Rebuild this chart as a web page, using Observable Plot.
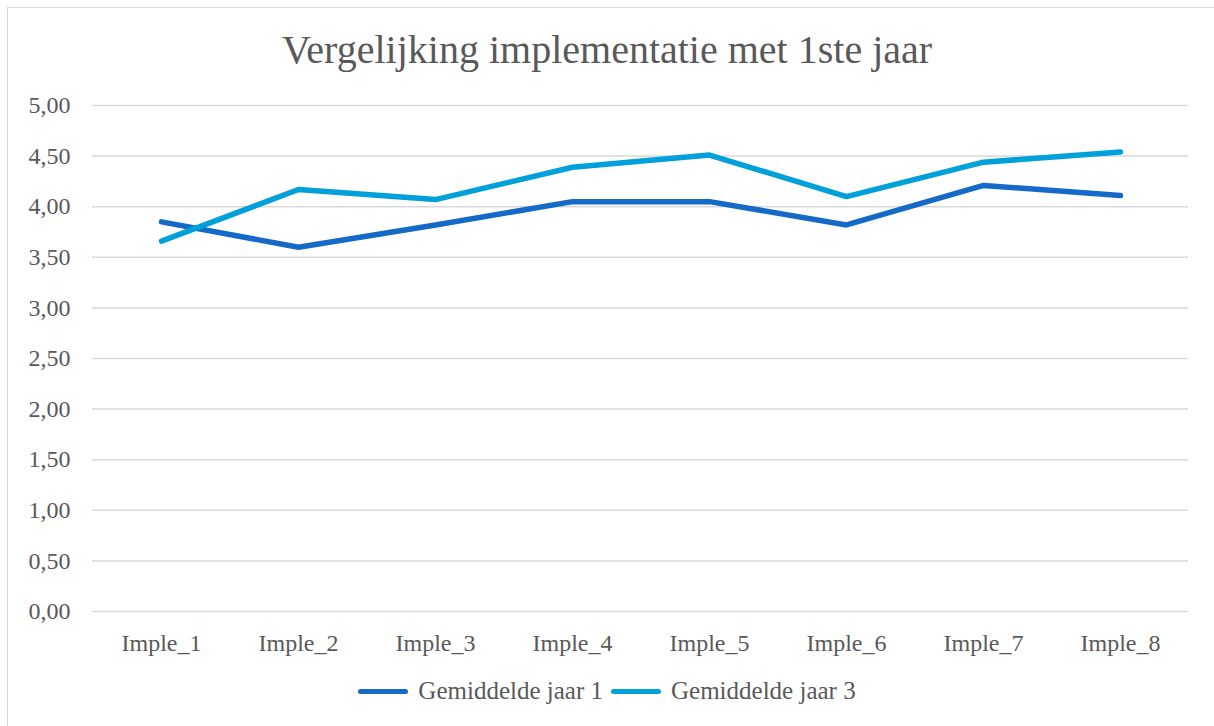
<!DOCTYPE html>
<html>
<head>
<meta charset="utf-8">
<script src="https://cdn.jsdelivr.net/npm/d3@7"></script>
<script src="https://cdn.jsdelivr.net/npm/@observablehq/plot@0.6"></script>
<style>
  body { margin: 0; background: #fff; font-family: "Liberation Serif", "DejaVu Serif", serif; }
  #wrap { position: relative; width: 1214px; height: 726px; overflow: hidden; }
  #frame { position: absolute; left: 7px; top: 7px; width: 1230px; height: 740px; border: 1.5px solid #d9d9d9; box-sizing: border-box; }
  #title { position: absolute; left: 0; width: 1214px; top: 26px; text-align: center; font-size: 40px; color: #595959; }
  #chart { position: absolute; left: 0; top: 0; }
  #legend { position: absolute; left: 0; width: 1214px; top: 677px; display: flex; justify-content: center; align-items: center; font-size: 25px; color: #595959; }
  .item { display: flex; align-items: center; margin: 0 4px; }
  .sw { width: 50px; height: 5px; border-radius: 3px; margin-right: 10px; }
</style>
</head>
<body>
<div id="wrap">
  <div id="frame"></div>
  <div id="chart"></div>
  <div id="title">Vergelijking implementatie met 1ste jaar</div>
  <div id="legend"></div>
</div>
<script>
const categories = ["Imple_1","Imple_2","Imple_3","Imple_4","Imple_5","Imple_6","Imple_7","Imple_8"];
const jaar1 = [3.85, 3.60, 3.82, 4.05, 4.05, 3.82, 4.21, 4.11];
const jaar3 = [3.66, 4.17, 4.07, 4.39, 4.51, 4.10, 4.44, 4.54];
const seriesNames = ["Gemiddelde jaar 1", "Gemiddelde jaar 3"];
const seriesColors = ["#1569C7", "#00A0DA"];
const yTicks = [0, 0.5, 1, 1.5, 2, 2.5, 3, 3.5, 4, 4.5, 5];

const rows = [];
categories.forEach((c, i) => {
  rows.push({cat: c, value: jaar1[i], series: seriesNames[0]});
  rows.push({cat: c, value: jaar3[i], series: seriesNames[1]});
});

const fmt = d => d.toFixed(2).replace(".", ",");

const plot = Plot.plot({
  width: 1214,
  height: 660,
  marginLeft: 92,
  marginRight: 26,
  marginTop: 105,
  marginBottom: 49,
  style: { fontFamily: "'Liberation Serif', 'DejaVu Serif', serif", fontSize: "24px", color: "#595959", background: "transparent" },
  x: { type: "point", domain: categories, padding: 0.5, label: null },
  y: { domain: [0, 5], label: null },
  color: { domain: seriesNames, range: seriesColors },
  marks: [
    Plot.ruleY(yTicks, { stroke: "#d9d9d9", strokeWidth: 1.5 }),
    Plot.axisY({ ticks: yTicks, tickFormat: fmt, tickSize: 0, tickPadding: 22, label: null, fill: "#595959", fontSize: 24 }),
    Plot.axisX({ tickSize: 0, tickPadding: 22, label: null, fill: "#595959", fontSize: 24 }),
    Plot.lineY(rows, { x: "cat", y: "value", z: "series", stroke: "series", strokeWidth: 5.5, strokeLinecap: "round", strokeLinejoin: "round" })
  ]
});
document.getElementById("chart").appendChild(plot);

const legend = document.getElementById("legend");
seriesNames.forEach((n, i) => {
  const it = document.createElement("div");
  it.className = "item";
  const sw = document.createElement("div");
  sw.className = "sw";
  sw.style.background = seriesColors[i];
  const tx = document.createElement("span");
  tx.textContent = n;
  it.appendChild(sw); it.appendChild(tx);
  legend.appendChild(it);
});
</script>
</body>
</html>
